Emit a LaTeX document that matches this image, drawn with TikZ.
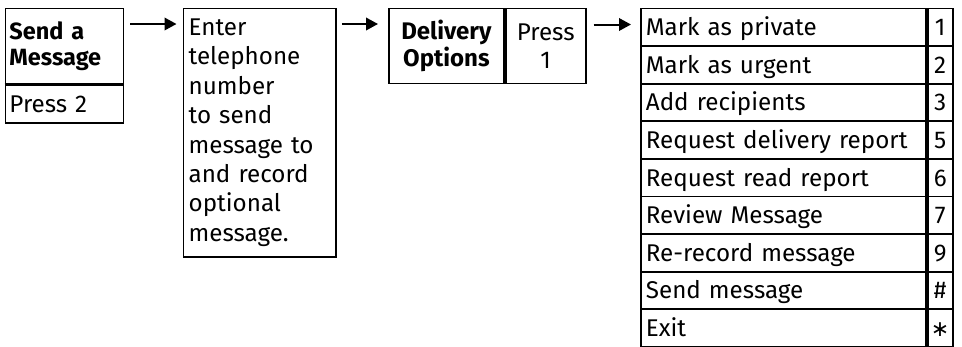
\documentclass[tikz,border=0pt]{standalone}
\usepackage{fontspec}
\setmainfont{Fira Sans}
\newfontfamily\symfont{DejaVu Sans}
\usetikzlibrary{arrows.meta,positioning}

\begin{document}
\begin{tikzpicture}[x=1pt, y=-1pt,
  box/.style={draw, line width=1.8pt, anchor=north west, inner xsep=5pt, inner ysep=0pt,
    font=\fontsize{24.2}{29.4}\selectfont},
  cell/.style={box, minimum height=37.6pt, text height=17pt, text depth=0pt},
  flow/.style={line width=2pt, -{Triangle[length=12pt, width=12.5pt]}}
]
\useasboundingbox (0,0) rectangle (962,346);
% step 1
\node[box, minimum width=118pt, minimum height=75pt, text width=110pt, inner xsep=4pt, align=left,
  font=\fontsize{23.5}{26}\selectfont\bfseries] (send) at (4.5,7.5) {Send a\\Message};
\node[box, minimum width=118pt, minimum height=37.5pt, text width=110pt, inner xsep=4pt, align=left,
  anchor=north west] (press2) at (send.south west) {Press 2};
\draw[line width=3.4pt] (send.south west) -- (send.south east);
% step 2
\node[box, minimum width=152.5pt, minimum height=248.5pt, text width=142pt, align=left] (enter) at (182.5,7.5)
  {Enter\\telephone\\number\\to send\\message to\\and record\\optional\\message.};
% step 3
\node[box, minimum width=115pt, minimum height=75pt, align=center,
  font=\fontsize{24}{26.5}\selectfont\bfseries] (deliv) at (388,7.5) {Delivery\\Options};
\node[box, minimum width=80pt, minimum height=75pt, align=center,
  font=\fontsize{24.2}{28}\selectfont] (press1) at (deliv.north east) {Press\\1};
% options table
\foreach \lbl/\key [count=\i] in {Mark as private/1, Mark as urgent/2, Add recipients/3,
    Request delivery report/5, Request read report/6, Review Message/7,
    Re-record message/9, Send message/\#, Exit/{\symfont\fontsize{22}{22}\selectfont ∗}} {
  \node[cell, minimum width=285pt, text width=275pt, align=left] (opt\i) at (640,{7.5+37.6*(\i-1)}) {\lbl};
  \node[cell, minimum width=25pt, inner xsep=0pt, align=center] (key\i) at (opt\i.north east) {\key};
}
% arrows
\draw[flow] ([xshift=6pt, yshift=-16.5pt]send.north east) -- ([xshift=-6pt, yshift=-16.5pt]enter.north west);
\draw[flow] ([xshift=5pt, yshift=-16.5pt]enter.north east) -- ([xshift=-10pt, yshift=-16.5pt]deliv.north west);
\draw[flow] ([xshift=7pt, yshift=-17pt]press1.north east) -- ([xshift=-9pt, yshift=-17pt]opt1.north west);
\end{tikzpicture}
\end{document}
